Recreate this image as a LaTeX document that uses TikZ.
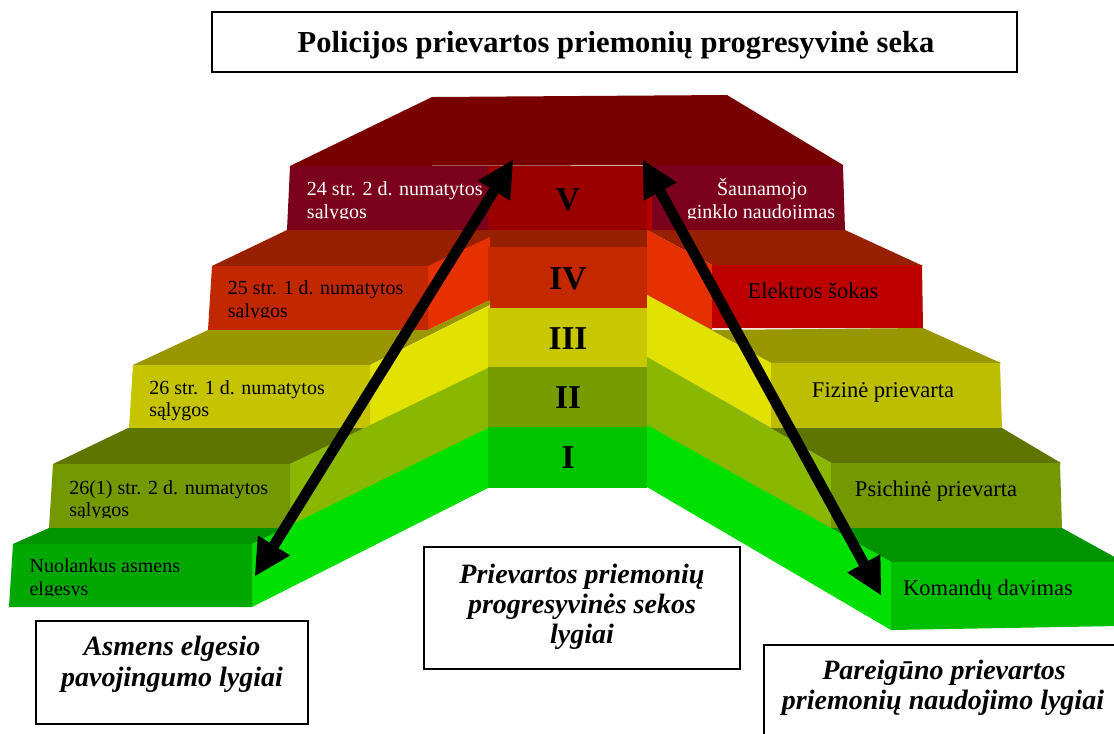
\documentclass[tikz,border=0pt]{standalone}
\usepackage{fontspec}
\setmainfont{Liberation Serif}
\usetikzlibrary{arrows.meta}

% step colours: tread (top), side (slanted), front faces
\definecolor{topface}{HTML}{780000}
\definecolor{vbox}{HTML}{7B001C}
\definecolor{vmid}{HTML}{9A0000}
\definecolor{vedge}{HTML}{B40000}
\definecolor{ivtread}{HTML}{962000}
\definecolor{ivside}{HTML}{E53000}
\definecolor{ivleft}{HTML}{C22800}
\definecolor{ivright}{HTML}{BC0000}
\definecolor{ivmid}{HTML}{C42800}
\definecolor{iiitread}{HTML}{999700}
\definecolor{iiiside}{HTML}{E2E200}
\definecolor{iiileft}{HTML}{C6C400}
\definecolor{iiiright}{HTML}{BEBE00}
\definecolor{iiimid}{HTML}{C8C800}
\definecolor{iitread}{HTML}{5E7600}
\definecolor{iiside}{HTML}{8AB800}
\definecolor{iibox}{HTML}{739800}
\definecolor{iimid}{HTML}{769C00}
\definecolor{itread}{HTML}{009400}
\definecolor{iside}{HTML}{00E000}
\definecolor{ileft}{HTML}{00A800}
\definecolor{iright}{HTML}{00BE00}
\definecolor{imid}{HTML}{00C400}

\tikzset{
  steptext/.style={inner sep=0pt, anchor=base west, font=\fontsize{15}{18}\selectfont},
  steptextc/.style={inner sep=0pt, anchor=base, font=\fontsize{16.9}{20}\selectfont},
  numeral/.style={inner sep=0pt, anchor=base, font=\fontsize{25}{30}\selectfont\bfseries},
  caption/.style={inner sep=0pt, anchor=base, font=\fontsize{21}{25}\selectfont\bfseries\itshape},
  titletext/.style={inner sep=0pt, anchor=base, font=\fontsize{22.9}{27}\selectfont\bfseries},
  framebox/.style={draw=black, line width=1.1pt, fill=white},
  bigarrow/.style={line width=8pt,
    {Triangle[length=27pt,width=28.5pt,line width=0pt]}-{Triangle[length=27pt,width=28.5pt,line width=0pt]}},
}

\begin{document}
\begin{tikzpicture}[x=0.75pt,y=-0.75pt]
\useasboundingbox (0,0) rectangle (1114,733);

% ---------- title ----------
\draw[framebox] (212,12) rectangle (1017,72);
\node[titletext] (title) at (616,52) {Policijos prievartos priemonių progresyvinė seka};

% ---------- top landing ----------
\fill[topface] (290,166) -- (432,97) -- (727,95) -- (843,165) -- cycle;

% ---------- level V ----------
\fill[vbox] (290,166) -- (490,166) -- (490,230) -- (287,230) -- cycle;
\fill[vbox] (647,165) -- (843,165) -- (845,230) -- (647,230) -- cycle;
\fill[vmid] (488,166) rectangle (647,230);
\fill[vedge] (647,166) rectangle (652,230);

% ---------- level IV ----------
\fill[ivtread] (212,266) -- (287,230) -- (490,230) -- (490,266) -- cycle;
\fill[ivtread] (647,230) -- (845,230) -- (921,265) -- (712,265) -- cycle;
\fill[ivtread] (488,230) rectangle (647,247);
\fill[ivside] (428,266) -- (490,237) -- (490,300) -- (428,330) -- cycle;
\fill[ivside] (647,230) -- (712,265) -- (712,330) -- (647,295) -- cycle;
\fill[ivleft] (212,266) -- (428,266) -- (428,330) -- (208,330) -- cycle;
\fill[ivright] (712,265) -- (922,265) -- (923,328) -- (712,328) -- cycle;
\fill[ivmid] (488,247) rectangle (647,308);

% ---------- level III ----------
\fill[iiitread] (133,365) -- (208,330) -- (428,330) -- (490,300) -- (490,305) -- (370,365) -- cycle;
\fill[iiitread] (647,295) -- (712,330) -- (923,328) -- (1001,363) -- (771,363) -- cycle;
\fill[iiiside] (370,365) -- (490,305) -- (490,367) -- (370,428) -- cycle;
\fill[iiiside] (647,295) -- (771,363) -- (771,428) -- (647,357) -- cycle;
\fill[iiileft] (133,365) -- (370,365) -- (370,428) -- (129,428) -- cycle;
\fill[iiiright] (771,363) -- (1000,363) -- (1002,428) -- (771,428) -- cycle;
\fill[iiimid] (488,308) rectangle (647,367);

% ---------- level II ----------
\fill[iitread] (53,464) -- (128,428) -- (370,428) -- (290,464) -- cycle;
\fill[iitread] (647,357) -- (771,428) -- (1002,428) -- (1061,463) -- (831,463) -- cycle;
\fill[iiside] (290,464) -- (490,367) -- (490,427) -- (290,528) -- cycle;
\fill[iiside] (647,357) -- (831,463) -- (831,528) -- (647,425) -- cycle;
\fill[iibox] (53,464) -- (290,464) -- (290,528) -- (49,528) -- cycle;
\fill[iibox] (831,463) -- (1060,463) -- (1062,528) -- (831,528) -- cycle;
\fill[iimid] (488,367) rectangle (647,427);

% ---------- level I ----------
\fill[itread] (13,544) -- (49,528) -- (290,528) -- (252,544) -- cycle;
\fill[itread] (647,425) -- (831,528) -- (1062,528) -- (1120,560) -- (1120,562) -- (891,562) -- cycle;
\fill[iside] (252,544) -- (490,427) -- (490,487) -- (252,607) -- cycle;
\fill[iside] (647,425) -- (891,562) -- (891,630) -- (647,487) -- cycle;
\fill[ileft] (13,544) -- (252,544) -- (252,607) -- (9,607) -- cycle;
\fill[iright] (891,562) -- (1120,562) -- (1120,626) -- (891,630) -- cycle;
\fill[imid] (488,427) rectangle (647,488);

% ---------- level numerals ----------
\node[numeral] (nV)   at (568,210) {V};
\node[numeral] (nIV)  at (568,289) {IV};
\node[numeral] (nIII) at (568,349) {III};
\node[numeral] (nII)  at (568,408) {II};
\node[numeral] (nI)   at (568,468) {I};

% ---------- left steps: conditions (second line cut by the text frame) ----------
\begin{scope}
  \clip (280,166) rectangle (487,218.6);
  \node[steptext, text=white] (l5a) at (306.7,195.7) {24 str. 2 d. numatytos};
  \node[steptext, text=white] (l5b) at (306.7,218.3) {sąlygos};
\end{scope}
\begin{scope}
  \clip (205,266) rectangle (428,317.3);
  \node[steptext] (l4a) at (227.7,294.7) {25 str. 1 d. numatytos};
  \node[steptext] (l4b) at (227.7,317) {sąlygos};
\end{scope}
\node[steptext] (l3a) at (149,394.3) {26 str. 1 d. numatytos};
\node[steptext] (l3b) at (149,416.7) {sąlygos};
\begin{scope}
  \clip (45,464) rectangle (290,517);
  \node[steptext] (l2a) at (69,494) {26(1) str. 2 d. numatytos};
  \node[steptext] (l2b) at (69,516.7) {sąlygos};
\end{scope}
\begin{scope}
  \clip (5,544) rectangle (252,595.8);
  \node[steptext] (l1a) at (29.3,572.7) {Nuolankus asmens};
  \node[steptext] (l1b) at (29.3,595) {elgesys};
\end{scope}

% ---------- right steps: measures ----------
\begin{scope}
  \clip (652,165) rectangle (845,218.8);
  \node[steptext, anchor=base, text=white] (r5a) at (762,195.3) {Šaunamojo};
  \node[steptext, anchor=base, text=white] (r5b) at (761,218.3) {ginklo naudojimas};
\end{scope}
\node[steptextc] (r4) at (813,298) {Elektros šokas};
\node[steptextc] (r3) at (883,397) {Fizinė prievarta};
\node[steptextc] (r2) at (936,496) {Psichinė prievarta};
\node[steptextc] (r1) at (988,595) {Komandų davimas};

% ---------- arrows ----------
\coordinate (upL) at (513,160);
\coordinate (downL) at (255,576);
\coordinate (upR) at (643,160);
\coordinate (downR) at (881,595);
\draw[bigarrow] (downL) -- (upL);
\draw[bigarrow] (upR) -- (downR);

% ---------- captions ----------
\draw[framebox] (36,621) rectangle (308,724);
\node[caption] (cl1) at (172,655) {Asmens elgesio};
\node[caption] (cl2) at (172,686.7) {pavojingumo lygiai};

\draw[framebox] (424,547) rectangle (740,669);
\node[caption] (cm1) at (582,583) {Prievartos priemonių};
\node[caption] (cm2) at (582,613) {progresyvinės sekos};
\node[caption] (cm3) at (582,643) {lygiai};

\draw[framebox] (764,645) rectangle (1125,745);
\node[caption] (cr1) at (944,679) {Pareigūno prievartos};
\node[caption] (cr2) at (943,709) {priemonių naudojimo lygiai};
\end{tikzpicture}
\end{document}
